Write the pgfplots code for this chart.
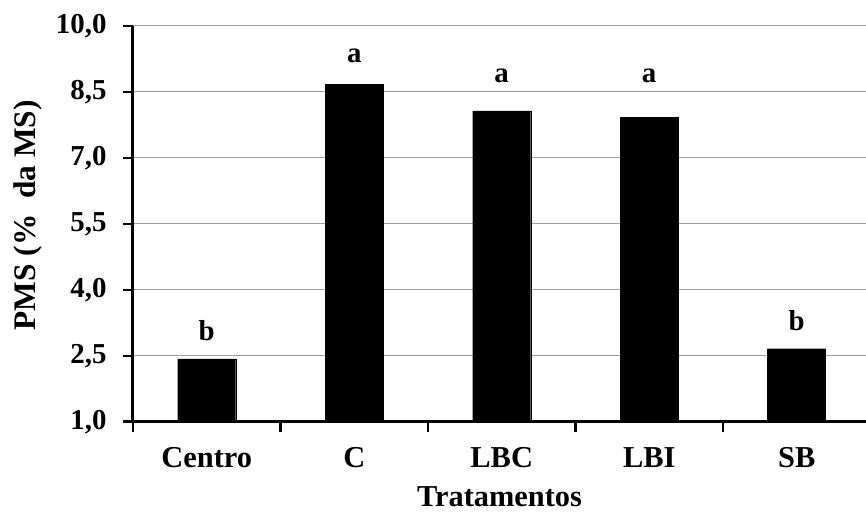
\documentclass[border=0pt]{standalone}
\usepackage{fontspec}
\setmainfont{Liberation Serif}
\usepackage{pgfplots}
\pgfplotsset{compat=1.18}
\begin{document}
\begin{tikzpicture}
\begin{axis}[
  scale only axis, width=733bp, height=395.7bp,
  xmin=-0.5, xmax=4.47, ymin=1, ymax=10,
  axis x line*=bottom, axis y line*=left,
  axis line style={line width=3bp},
  ytick={1,2.5,4,5.5,7,8.5,10},
  ymajorgrids, grid style={draw=gray!75, line width=1bp},
  yticklabel style={font=\fontsize{29}{32}\selectfont\bfseries, xshift=-13bp,
    /pgf/number format/fixed, /pgf/number format/fixed zerofill,
    /pgf/number format/precision=1, /pgf/number format/use comma,
    /pgf/number format/assume math mode=true},
  xticklabel style={font=\fontsize{30.5}{34}\selectfont\bfseries, yshift=-22bp},
  tick align=outside, major tick length=10bp,
  tick style={black, line width=2.5bp},
  xtick={-0.5,0.5,1.5,2.5,3.5}, xticklabels={},
  extra x ticks={0,1,2,3,4},
  extra x tick labels={Centro,C,LBC,LBI,SB},
  extra x tick style={major tick length=0pt, tick style={draw=none}, grid=none},
  xlabel={Tratamentos},
  xlabel style={font=\fontsize{30.5}{34}\selectfont\bfseries, at={(axis description cs:0.5,0)}, anchor=center, yshift=-74.5bp},
  ylabel={PMS (\%\ \ da MS)},
  every axis y label/.style={font=\fontsize{31.5}{34}\selectfont\bfseries, at={(axis description cs:-0.1432,0.522)}, anchor=center, rotate=90},
]
\addplot[ybar, bar width=58bp, fill=black, draw=black] coordinates {(0,2.43) (1,8.67) (2,8.07) (3,7.93) (4,2.66)};
\addplot[only marks, mark=none, nodes near coords, point meta=explicit symbolic,
  nodes near coords style={anchor=center, font=\fontsize{29}{32}\selectfont\bfseries}]
  table[meta=l] {
x y l
0 3.07 b
1 9.32 a
2 8.87 a
3 8.87 a
4 3.29 b
};
\end{axis}
\pgfresetboundingbox
\path[use as bounding box] (-133bp,-91.3bp) rectangle (733bp,421.7bp);
\end{tikzpicture}
\end{document}
